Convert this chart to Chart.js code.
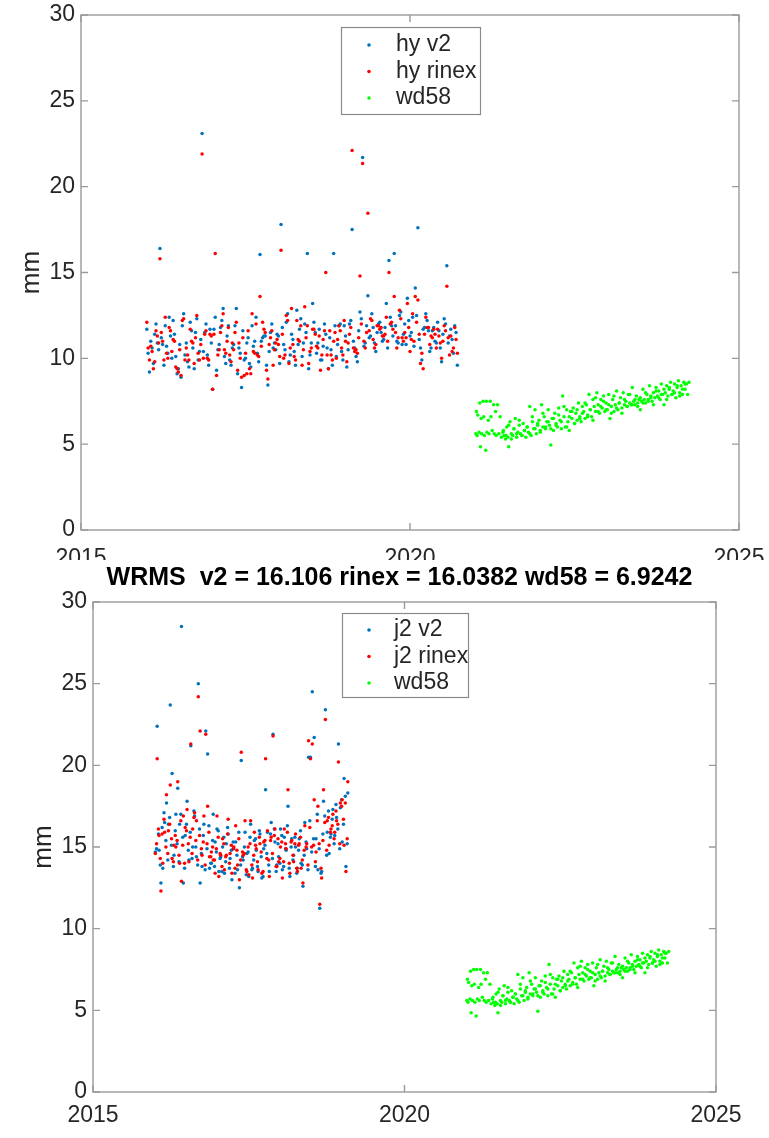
<!DOCTYPE html>
<html><head><meta charset="utf-8">
<script src="https://cdn.jsdelivr.net/npm/chart.js@4/dist/chart.umd.min.js"></script>
<style>
html,body{margin:0;padding:0;background:#fff;}
#top{position:absolute;left:0;top:0;width:769px;height:560px;overflow:hidden;background:#fff;}
#bot{position:absolute;left:0;top:560px;width:769px;height:578px;background:#fff;}
canvas{display:block;}
</style></head><body>
<div id="top"><canvas id="c1" width="769" height="580"></canvas></div>
<div id="bot"><canvas id="c2" width="769" height="578"></canvas></div>
<script>
// ---------- data ----------
const hyDates = [
2016.00,2016.04,2016.08,2016.12,2016.16,2016.20,2016.24,2016.28,2016.32,2016.36,
2016.40,2016.44,2016.48,2016.52,2016.56,2016.60,2016.64,2016.68,2016.72,2016.76,
2016.80,2016.84,2016.88,2016.92,2016.96,2017.00,2017.04,2017.08,2017.12,2017.16,
2017.20,2017.24,2017.28,2017.32,2017.36,2017.40,2017.44,2017.48,2017.52,2017.56,
2017.60,2017.64,2017.68,2017.72,2017.76,2017.80,2017.84,2017.88,2017.92,2017.96,
2018.00,2018.04,2018.08,2018.12,2018.16,2018.20,2018.24,2018.28,2018.32,2018.36,
2018.40,2018.44,2018.48,2018.52,2018.56,2018.60,2018.64,2018.68,2018.72,2018.76,
2018.80,2018.84,2018.88,2018.92,2018.96,2019.00,2019.04,2019.08,2019.12,2019.16,
2019.20,2019.24,2019.28,2019.32,2019.36,2019.40,2019.44,2019.48,2019.52,2019.56,
2019.60,2019.64,2019.68,2019.72,2019.76,2019.80,2019.84,2019.88,2019.92,2019.96,
2020.00,2020.04,2020.08,2020.12,2020.16,2020.20,2020.24,2020.28,2020.32,2020.36,
2020.40,2020.44,2020.48,2020.52,2020.56,2020.60,2020.64,2020.68,2020.72,
2016.02,2016.06,2016.10,2016.14,2016.18,2016.22,2016.26,2016.30,2016.34,2016.38,
2016.42,2016.46,2016.50,2016.54,2016.58,2016.62,2016.66,2016.70,2016.74,2016.78,
2016.82,2016.86,2016.90,2016.94,2016.98,2017.02,2017.06,2017.10,2017.14,2017.18,
2017.22,2017.26,2017.30,2017.34,2017.38,2017.42,2017.46,2017.50,2017.54,2017.58,
2017.62,2017.66,2017.70,2017.74,2017.78,2017.82,2017.86,2017.90,2017.94,2017.98,
2018.02,2018.06,2018.10,2018.14,2018.18,2018.22,2018.26,2018.30,2018.34,2018.38,
2018.42,2018.46,2018.50,2018.54,2018.58,2018.62,2018.66,2018.70,2018.74,2018.78,
2018.82,2018.86,2018.90,2018.94,2018.98,2019.02,2019.06,2019.10,2019.14,2019.18,
2019.22,2019.26,2019.30,2019.34,2019.38,2019.42,2019.46,2019.50,2019.54,2019.58,
2019.62,2019.66,2019.70,2019.74,2019.78,2019.82,2019.86,2019.90,2019.94,2019.98,
2020.02,2020.06,2020.10,2020.14,2020.18,2020.22,2020.26,2020.30,2020.34,2020.38,
2020.42,2020.46,2020.50,2020.54,2020.58,2020.62,2020.66,2020.70];
const hyV2 = [
11.7,9.2,10.6,11.4,10.9,16.4,10.8,11.9,10.3,11.3,
12.2,10.1,9.4,8.9,12.6,10.9,9.5,11.6,9.4,12.3,
10.4,23.1,11.5,10.2,11.7,8.2,12.4,10.5,11.8,12.9,
9.7,11.9,9.6,10.8,12.9,10.6,8.3,9.9,10.9,9.7,
11.9,11.0,10.3,16.05,11.2,11.3,8.45,11.5,10.6,10.5,
11.3,17.8,10.8,12.1,9.8,11.4,10.4,12.8,11.7,10.1,
12.0,16.1,10.2,13.2,11.5,10.9,9.9,10.7,11.4,9.4,
10.5,16.1,10.1,11.9,10.4,11.9,9.5,12.0,17.5,10.6,
9.8,12.7,21.7,10.9,13.65,11.3,11.8,10.4,12.0,11.5,
11.1,13.2,15.7,11.9,16.1,11.0,12.5,10.8,12.0,13.5,
11.3,12.4,14.1,17.6,10.6,11.7,12.6,11.6,10.6,11.8,
10.9,11.6,9.8,12.3,15.4,11.3,11.1,11.9,9.6,
10.3,11.0,9.7,12.0,10.5,11.2,9.6,10.7,12.4,10.0,
11.4,9.1,10.8,11.9,10.2,9.8,12.1,10.6,11.5,9.9,
11.1,10.4,12.0,9.6,10.9,11.7,9.3,10.8,12.2,10.1,
11.3,9.9,10.6,11.9,9.1,10.3,11.6,10.0,11.2,9.5,
10.7,12.4,9.8,11.0,11.3,9.6,10.4,12.0,10.9,11.4,
9.7,11.8,10.5,12.6,10.2,11.1,9.6,10.8,12.3,10.9,
11.5,9.4,10.9,12.1,10.3,11.7,9.9,12.0,10.6,11.2,
9.6,11.9,10.8,12.0,9.9,11.3,10.5,12.2,11.0,10.1,
11.6,12.3,10.7,11.9,11.2,12.6,10.9,11.5,12.1,11.0,
11.8,10.6,12.4,11.3,11.9,10.9,12.7,11.4,10.8,12.2,
11.5,10.7,12.5,11.1,9.9,11.8,12.2,10.4,11.6,11.0,
12.1,10.6,11.4,12.0,10.9,11.7,10.3,11.5];
const hyRinex = [
12.1,9.9,10.4,9.8,11.3,15.8,11.0,12.4,10.0,11.6,
11.1,9.5,9.2,9.0,12.3,10.6,9.9,11.0,9.7,12.5,
9.9,21.9,11.4,10.0,11.4,8.2,16.1,10.2,11.5,12.6,
10.3,11.8,9.8,10.5,12.1,10.9,8.9,9.0,9.1,9.4,
12.6,10.3,10.2,13.6,12.1,11.5,8.8,11.2,9.6,10.9,
10.8,16.3,10.0,12.5,9.7,12.9,10.1,12.2,11.0,9.6,
13.0,11.9,10.4,11.7,11.4,10.6,9.3,11.1,15.0,9.4,
10.2,11.0,10.0,11.9,10.6,12.2,9.8,11.4,22.1,10.4,
10.3,14.8,21.35,10.6,18.45,12.3,11.1,10.8,11.9,11.8,
11.3,12.4,15.0,12.1,13.6,10.6,12.8,11.2,11.5,13.2,
10.4,12.6,13.6,13.4,9.7,9.4,12.4,11.8,11.3,11.7,
10.6,11.3,10.0,11.9,14.2,10.2,10.4,11.8,10.3,
10.6,10.7,9.4,11.6,10.9,11.5,9.9,10.3,11.8,10.4,
11.0,9.4,10.5,12.2,9.9,10.2,11.7,10.9,11.2,10.3,
10.8,10.0,11.6,9.9,11.3,11.4,9.0,10.5,11.9,10.5,
11.0,10.2,10.9,11.5,9.3,10.0,11.2,10.3,11.6,9.1,
10.4,12.0,10.1,10.7,11.7,9.3,10.8,11.6,10.5,11.1,
10.1,11.4,10.2,12.2,10.6,10.8,9.9,11.1,11.9,10.5,
11.2,9.7,10.6,11.7,10.7,11.3,10.2,11.6,10.2,11.6,
9.9,11.5,11.1,11.6,10.2,11.0,10.9,11.8,10.6,10.5,
11.2,12.0,11.0,11.5,11.6,12.2,10.6,11.9,11.7,11.3,
11.4,11.0,12.0,11.7,11.5,11.2,12.3,11.0,11.2,11.8,
11.1,11.0,12.1,11.4,10.3,11.4,11.8,10.8,11.2,11.4,
11.7,10.9,11.0,11.6,11.2,11.3,10.6,11.1];

const j2Dates = [
2016.00,2016.03,2016.06,2016.09,2016.12,2016.15,2016.18,2016.21,2016.24,2016.27,
2016.30,2016.33,2016.36,2016.39,2016.42,2016.45,2016.48,2016.51,2016.54,2016.57,
2016.60,2016.63,2016.66,2016.69,2016.72,2016.75,2016.78,2016.81,2016.84,2016.87,
2016.90,2016.93,2016.96,2016.99,2017.02,2017.05,2017.08,2017.11,2017.14,2017.17,
2017.20,2017.23,2017.26,2017.29,2017.32,2017.35,2017.38,2017.41,2017.44,2017.47,
2017.50,2017.53,2017.56,2017.59,2017.62,2017.65,2017.68,2017.71,2017.74,2017.77,
2017.80,2017.83,2017.86,2017.89,2017.92,2017.95,2017.98,2018.01,2018.04,2018.07,
2018.10,2018.13,2018.16,2018.19,2018.22,2018.25,2018.28,2018.31,2018.34,2018.37,
2018.40,2018.43,2018.46,2018.49,2018.52,2018.55,2018.58,2018.61,2018.64,2018.67,
2018.70,2018.73,2018.76,2018.79,2018.82,2018.85,2018.88,2018.91,2018.94,2018.97,
2019.00,2019.03,2019.06,2019.09,
2016.02,2016.05,2016.08,2016.11,2016.14,2016.17,2016.20,2016.23,2016.26,2016.29,
2016.32,2016.35,2016.38,2016.41,2016.44,2016.47,2016.50,2016.53,2016.56,2016.59,
2016.62,2016.65,2016.68,2016.71,2016.74,2016.77,2016.80,2016.83,2016.86,2016.89,
2016.92,2016.95,2016.98,2017.01,2017.04,2017.07,2017.10,2017.13,2017.16,2017.19,
2017.22,2017.25,2017.28,2017.31,2017.34,2017.37,2017.40,2017.43,2017.46,2017.49,
2017.52,2017.55,2017.58,2017.61,2017.64,2017.67,2017.70,2017.73,2017.76,2017.79,
2017.82,2017.85,2017.88,2017.91,2017.94,2017.97,2018.00,2018.03,2018.06,2018.09,
2018.12,2018.15,2018.18,2018.21,2018.24,2018.27,2018.30,2018.33,2018.36,2018.39,
2018.42,2018.45,2018.48,2018.51,2018.54,2018.57,2018.60,2018.63,2018.66,2018.69,
2018.72,2018.75,2018.78,2018.81,2018.84,2018.87,2018.90,2018.93,2018.96,2018.99,
2019.02,2019.05,2019.08];
const j2V2 = [
14.7,22.4,14.8,12.8,13.7,16.5,17.7,16.4,23.7,19.5,
14.5,17.0,18.6,16.4,28.5,12.8,15.7,17.8,14.2,21.2,
15.0,16.9,14.4,25.0,12.8,13.8,16.4,22.1,20.7,13.7,
14.0,17.0,15.3,16.1,13.5,14.4,15.0,13.4,15.2,15.8,
14.3,13.0,14.9,15.3,13.6,12.5,20.3,14.2,15.9,14.6,
13.2,16.4,13.7,15.4,14.8,13.5,15.8,13.1,14.9,18.5,
15.9,13.5,16.5,21.9,15.3,13.9,14.4,16.1,13.6,15.6,
14.8,17.5,13.2,15.5,14.5,15.0,13.7,15.5,14.0,12.6,
16.5,14.9,20.5,20.5,24.5,21.7,15.5,13.6,11.25,13.5,
17.8,23.4,15.9,14.6,15.8,17.3,15.7,16.8,21.3,17.4,
15.3,19.2,13.8,18.3,
14.9,15.8,13.9,16.2,17.1,15.4,14.2,16.8,15.1,13.8,
16.0,15.2,14.1,17.0,15.6,13.7,16.4,14.8,15.9,14.3,
17.2,15.0,13.9,16.1,14.6,15.7,13.6,14.9,16.3,14.0,
15.4,13.8,14.7,16.0,14.3,13.5,15.6,14.1,16.2,13.7,
14.8,15.3,13.4,14.5,15.9,13.9,14.4,15.0,13.3,14.7,
15.6,13.6,14.2,15.5,13.8,16.0,14.4,13.2,15.1,14.6,
13.9,15.8,14.3,16.1,13.5,15.2,14.0,15.7,13.8,14.9,
16.3,13.7,15.0,14.2,15.6,13.4,14.8,16.0,13.9,14.5,
15.3,13.6,16.6,14.7,15.5,13.8,17.0,14.9,13.4,15.8,
16.9,14.5,17.2,15.6,16.7,15.2,17.6,16.1,14.9,17.9,
16.4,18.1,15.2];
const j2Rinex = [
14.6,20.4,15.7,12.3,14.0,15.9,18.2,16.0,18.8,14.3,
15.1,15.0,19.0,14.0,12.9,16.9,16.2,17.3,14.1,21.3,
16.1,17.1,16.6,24.2,22.1,14.5,16.9,21.9,17.5,14.4,
14.7,14.2,13.4,16.9,13.2,14.5,15.5,13.6,14.5,16.7,
14.6,13.4,15.0,16.3,13.9,13.0,20.8,14.5,16.6,13.5,
13.3,16.6,13.1,15.9,14.9,13.6,15.2,13.4,15.3,20.4,
16.0,13.2,15.6,21.8,16.1,13.8,14.1,15.0,13.1,16.1,
14.9,18.5,13.4,15.4,14.1,15.8,13.5,15.2,13.7,12.8,
16.3,15.2,21.5,20.4,21.3,17.9,14.7,17.5,11.5,13.1,
18.5,22.8,16.6,15.1,16.1,17.0,15.9,16.6,20.2,17.7,
17.9,15.1,13.5,19.0,
15.2,16.1,14.3,15.8,16.7,15.0,14.6,16.4,15.5,14.1,
15.7,15.4,14.5,16.6,15.1,14.0,16.0,15.2,15.6,14.6,
16.8,15.4,14.2,15.7,14.9,15.3,13.9,15.2,15.9,14.4,
15.0,14.2,14.9,15.6,14.6,13.8,15.2,14.4,15.8,14.0,
15.1,14.9,13.7,14.8,15.5,14.2,14.7,14.6,13.6,15.0,
15.2,13.9,14.5,15.1,14.1,15.6,14.7,13.5,15.4,14.3,
14.2,15.4,14.6,15.7,13.8,15.5,14.3,15.3,14.1,15.2,
15.9,14.0,15.3,14.5,15.2,13.7,15.1,15.6,14.2,14.8,
15.0,13.9,16.2,15.0,15.1,14.1,16.6,15.2,13.7,15.4,
16.5,14.8,16.8,15.9,16.3,15.5,17.2,16.4,15.2,17.5,
16.7,17.7,15.5];

const wdDates = [
2021.00,2021.01,2021.02,2021.03,2021.05,2021.06,2021.07,2021.08,2021.09,2021.11,
2021.12,2021.13,2021.15,2021.16,2021.17,2021.19,2021.20,2021.22,2021.23,2021.25,
2021.27,2021.28,2021.30,2021.31,2021.33,2021.35,2021.37,2021.39,2021.41,2021.43,
2021.45,2021.47,2021.49,2021.50,2021.52,2021.54,2021.56,2021.58,2021.60,2021.62,
2021.64,2021.66,2021.68,2021.70,2021.72,2021.74,2021.76,2021.78,2021.80,2021.82,
2021.84,2021.86,2021.88,2021.90,2021.92,2021.94,2021.96,2021.98,
2022.00,2022.02,2022.04,2022.06,2022.08,2022.10,2022.12,2022.14,2022.16,2022.18,
2022.20,2022.22,2022.24,2022.26,2022.28,2022.30,2022.32,2022.34,2022.36,2022.38,
2022.40,2022.42,2022.44,2022.46,2022.48,2022.50,2022.52,2022.54,2022.56,2022.58,
2022.60,2022.62,2022.64,2022.66,2022.68,2022.70,2022.72,2022.74,2022.76,2022.78,
2022.80,2022.82,2022.84,2022.86,2022.88,2022.90,2022.92,2022.94,2022.96,2022.98,
2023.00,2023.02,2023.04,2023.06,2023.08,2023.10,2023.12,2023.14,2023.16,2023.18,
2023.20,2023.22,2023.24,2023.26,2023.28,2023.30,2023.32,2023.34,2023.36,2023.38,
2023.40,2023.42,2023.44,2023.46,2023.48,2023.50,2023.52,2023.54,2023.56,2023.58,
2023.60,2023.62,2023.64,2023.66,2023.68,2023.70,2023.72,2023.74,2023.76,2023.78,
2023.80,2023.82,2023.84,2023.86,2023.88,2023.90,2023.92,2023.94,2023.96,2023.98,
2024.00,2024.02,2024.04,2024.06,2024.08,2024.10,2024.12,2024.14,2024.16,2024.18,
2024.20,2024.22,2024.24,
2021.42,2021.46,2021.50,2021.54,2021.58,2021.62,2021.66,2021.70,2021.74,2021.78,
2021.82,2021.86,2021.90,2021.94,2021.98,2022.02,2022.06,2022.10,2022.14,2022.18,
2022.22,2022.26,2022.30,2022.34,2022.38,2022.42,2022.46,2022.50,2022.54,2022.58,
2022.62,2022.66,2022.70,2022.74,2022.78,2022.82,2022.86,2022.90,2022.94,2022.98,
2023.02,2023.06,2023.10,2023.14,2023.18,2023.22,2023.26,2023.30,2023.34,2023.38,
2023.42,2023.46,2023.50,2023.54,2023.58,2023.62,2023.66,2023.70,2023.74,2023.78,
2023.82,2023.86,2023.90,2023.94,2023.98,2024.02,2024.06,2024.10,2024.14,2024.18];
const wd58 = [
5.6,6.9,5.5,6.7,5.7,7.4,4.85,6.5,5.6,7.5,
6.6,5.5,4.65,7.5,5.7,6.4,5.6,7.5,6.6,5.8,
7.3,5.6,6.9,5.5,7.3,5.6,6.6,5.4,5.7,5.5,
5.3,6.0,5.4,4.85,6.3,5.6,5.5,5.9,6.5,5.4,
5.7,6.1,5.6,5.5,6.2,5.8,5.4,6.0,5.7,7.2,
5.5,6.3,5.9,7.0,5.6,6.1,6.4,5.8,
7.3,6.0,6.6,5.9,6.3,7.0,6.1,4.95,6.5,5.8,
6.8,6.2,6.0,7.1,6.4,5.9,7.8,6.6,6.0,7.0,
6.3,5.8,6.9,6.5,7.1,6.2,6.8,6.4,7.4,6.6,
6.3,7.2,6.9,6.5,7.3,6.7,7.9,7.0,6.6,7.6,
7.2,6.9,8.0,7.3,6.8,7.6,7.1,7.8,6.9,7.4,
7.0,7.9,6.5,7.2,7.6,6.9,7.3,8.1,7.0,7.4,
7.7,7.1,8.0,7.3,7.5,7.2,7.9,7.4,7.3,8.3,
7.5,7.3,7.8,7.4,7.6,7.0,7.5,8.2,7.6,7.4,
7.9,7.6,8.4,7.7,7.5,8.0,7.7,8.3,7.8,8.1,
7.6,8.5,7.9,7.3,8.0,8.4,7.8,8.2,8.6,7.9,
8.1,8.5,7.7,8.3,8.7,8.0,8.4,7.9,8.6,8.2,
8.5,7.9,8.6,
5.8,5.5,6.1,5.3,5.9,5.6,6.4,5.5,5.8,6.0,
5.6,6.6,5.9,6.2,5.7,6.8,6.0,6.3,5.9,6.5,
6.1,6.7,6.3,7.2,6.0,6.6,6.9,6.2,7.0,6.5,
6.8,7.4,6.6,7.0,6.4,7.7,6.9,7.2,7.5,7.0,
7.3,6.8,7.8,7.1,7.4,6.8,7.6,7.2,7.9,7.3,
7.6,7.2,7.7,7.4,8.0,7.5,7.8,7.3,8.1,7.7,
7.9,8.2,7.6,8.3,7.9,8.0,8.4,7.8,8.2,8.5];

const xTicks = [2015, 2020, 2025];
const yTicks = [0, 5, 10, 15, 20, 25, 30];
const topLabels = ['hy v2', 'hy rinex', 'wd58'];
const botLabels = ['j2 v2', 'j2 rinex', 'wd58'];
const bottomTitle = 'WRMS  v2 = 16.106 rinex = 16.0382 wd58 = 6.9242';

// ---------- helpers ----------
const BLUE = '#0072BD', RED = '#FF0000', GREEN = '#00FF00';
const FONT = '"Liberation Sans", Arial, Helvetica, sans-serif';
const TXT = '#262626';
const AXC = '#9a9a9a';
function pts(xs, ys) { const n = Math.min(xs.length, ys.length); const out = []; for (let i = 0; i < n; i++) out.push({x: xs[i], y: ys[i]}); return out; }

const boxPlugin = {
  id: 'mbox',
  afterDatasetsDraw(chart, args, o) {
    const {ctx, chartArea: a, scales: {x, y}} = chart;
    ctx.save();
    ctx.strokeStyle = o.color; ctx.lineWidth = o.width;
    ctx.strokeRect(a.left, a.top, a.right - a.left, a.bottom - a.top);
    ctx.beginPath();
    x.ticks.forEach(t => { const p = x.getPixelForValue(t.value); ctx.moveTo(p, a.bottom); ctx.lineTo(p, a.bottom - o.tick); ctx.moveTo(p, a.top); ctx.lineTo(p, a.top + o.tick); });
    y.ticks.forEach(t => { const p = y.getPixelForValue(t.value); ctx.moveTo(a.left, p); ctx.lineTo(a.left + o.tick, p); ctx.moveTo(a.right, p); ctx.lineTo(a.right - o.tick, p); });
    ctx.stroke();
    ctx.restore();
  }
};
const legendPlugin = {
  id: 'mlegend',
  afterDraw(chart, args, o) {
    const ctx = chart.ctx;
    ctx.save();
    ctx.fillStyle = '#fff'; ctx.fillRect(o.x, o.y, o.w, o.h);
    ctx.strokeStyle = o.border; ctx.lineWidth = 1.2; ctx.strokeRect(o.x + 0.5, o.y + 0.5, o.w, o.h);
    ctx.font = o.font; ctx.textBaseline = 'middle'; ctx.textAlign = 'left';
    chart.data.datasets.forEach((ds, i) => {
      const cy = o.y + o.first + i * o.gap;
      ctx.fillStyle = ds.backgroundColor;
      ctx.beginPath(); ctx.arc(o.mx, cy, 1.8, 0, Math.PI * 2); ctx.fill();
      ctx.fillStyle = TXT;
      ctx.fillText(ds.label, o.tx, cy);
    });
    ctx.restore();
  }
};
const titlePlugin = {
  id: 'mtitle',
  afterDraw(chart, args, o) {
    if (!o.text) return;
    const {ctx, chartArea: a} = chart;
    ctx.save();
    ctx.font = o.font; ctx.fillStyle = '#000'; ctx.textAlign = 'center'; ctx.textBaseline = 'middle';
    ctx.fillText(o.text, (a.left + a.right) / 2 - 5, o.y);
    ctx.restore();
  }
};

function makeChart(id, labels, v2x, v2y, rx, ry, cfg) {
  const ds = (label, data, color, order) => ({label, data, backgroundColor: color, borderColor: color, pointRadius: 1.75, pointBorderWidth: 0, pointHoverRadius: 1.75, showLine: false, order});
  return new Chart(document.getElementById(id), {
    type: 'scatter',
    data: { datasets: [
      ds(labels[0], pts(v2x, v2y), BLUE, 3),
      ds(labels[1], pts(rx, ry), RED, 2),
      ds(labels[2], pts(wdDates, wd58), GREEN, 1)
    ]},
    options: {
      responsive: false, animation: false, events: [],
      layout: { padding: { left: 0, right: cfg.padRight, top: cfg.padTop, bottom: 0 } },
      scales: {
        x: {
          type: 'linear', min: 2015, max: 2025,
          afterBuildTicks: s => { s.ticks = xTicks.map(v => ({value: v})); },
          afterFit: s => { s.height = cfg.xH; s.paddingLeft = 0; s.paddingRight = 0; },
          grid: { display: false, drawTicks: false }, border: { display: false },
          ticks: { callback: v => String(v), color: TXT, font: { family: FONT, size: 23 }, padding: cfg.xPad, maxRotation: 0, autoSkip: false }
        },
        y: {
          type: 'linear', min: 0, max: 30,
          afterBuildTicks: s => { s.ticks = yTicks.map(v => ({value: v})); },
          afterFit: s => { s.width = cfg.yW; s.paddingTop = 0; s.paddingBottom = 0; },
          grid: { display: false, drawTicks: false }, border: { display: false },
          ticks: { color: TXT, font: { family: FONT, size: 23 }, padding: 6 },
          title: { display: true, text: 'mm', color: TXT, font: { family: FONT, size: 26 }, padding: { top: cfg.mmPad, bottom: 0 } }
        }
      },
      plugins: {
        legend: { display: false }, tooltip: { enabled: false },
        mbox: { color: AXC, width: 1.4, tick: 7 },
        mlegend: cfg.legend,
        mtitle: { text: cfg.title, font: 'bold 25px ' + FONT, y: 18 }
      }
    },
    plugins: [boxPlugin, legendPlugin, titlePlugin]
  });
}

makeChart('c1', topLabels, hyDates, hyV2, hyDates, hyRinex, {
  padRight: 30, padTop: 15, xH: 50, yW: 81, xPad: 15, mmPad: 16, title: '',
  legend: { x: 341, y: 27, w: 139, h: 87, first: 18, gap: 26.5, mx: 369, tx: 396, border: '#8a8a8a', font: '23px ' + FONT }
});
makeChart('c2', botLabels, j2Dates, j2V2, j2Dates, j2Rinex, {
  padRight: 53, padTop: 42, xH: 46, yW: 93, xPad: 10, mmPad: 28, title: bottomTitle,
  legend: { x: 342, y: 53, w: 126, h: 84, first: 17, gap: 26.5, mx: 369, tx: 394, border: '#8a8a8a', font: '23px ' + FONT }
});
</script>
</body></html>
